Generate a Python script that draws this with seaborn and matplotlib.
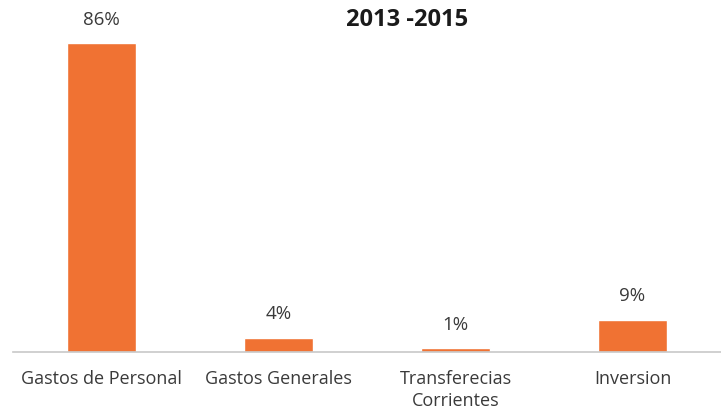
import matplotlib
matplotlib.use("Agg")
import matplotlib.pyplot as plt
import seaborn as sns
import pandas as pd

categorias = ["Gastos de Personal", "Gastos Generales", "Transferecias\nCorrientes", "Inversion"]
porcentajes = [86, 4, 1, 9]
titulo = "2013 -2015"

sns.set_style("white")
plt.rcParams["font.family"] = ["Open Sans", "DejaVu Sans"]

df = pd.DataFrame({"categoria": categorias, "pct": porcentajes})

fig = plt.figure(figsize=(7.21, 4.13), dpi=100)
ax = fig.add_axes([13 / 721, 1 - 352 / 413, 1 - 13 / 721, 352 / 413])

sns.barplot(data=df, x="categoria", y="pct", color="#F07233", width=0.395,
            saturation=1, ax=ax)

ax.set_ylim(0, 352 / 3.59)
ax.set_xlim(-0.5, 3.5)
for i, v in enumerate(porcentajes):
    ax.text(i, v + 6.5, f"{v}%", ha="center", va="center", fontsize=13.5, color="#3a3a3a")

for s in ["top", "right", "left"]:
    ax.spines[s].set_visible(False)
ax.spines["bottom"].set_color("#c8c8c8")
ax.spines["bottom"].set_linewidth(1.2)
ax.set_yticks([])
ax.set_xlabel("")
ax.set_ylabel("")
ax.set_xticks(range(len(categorias)))
ax.set_xticklabels(categorias, fontsize=13, color="#3a3a3a", linespacing=1.25)
ax.tick_params(axis="x", length=0, pad=13)
# category boundary ticks
ax.set_xticks([0.5, 1.5, 2.5], minor=True)
ax.tick_params(axis="x", which="minor", length=5, color="#c8c8c8", direction="out")

fig.text(407 / 721, 1 - 20 / 413, titulo, ha="center", va="center", fontsize=17,
         fontweight="bold", color="#1a1a1a")

fig.savefig("out.png", dpi=100)
